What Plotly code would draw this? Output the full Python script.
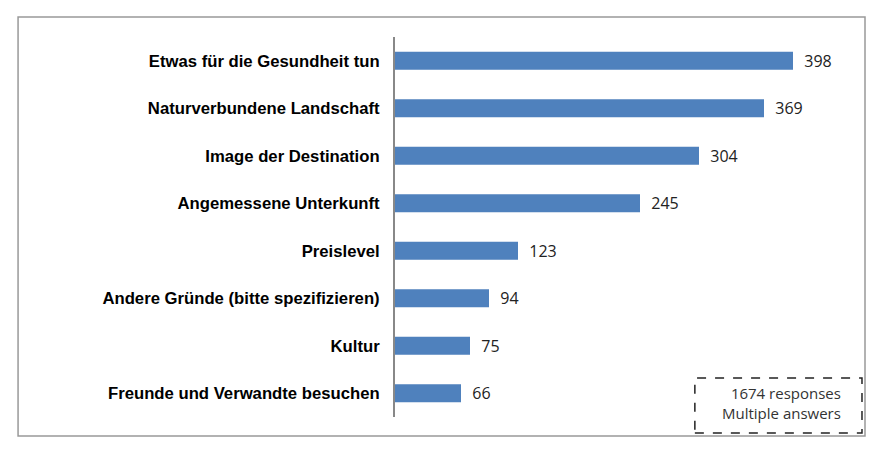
import plotly.graph_objects as go

# Gründe, Anzahl Nennungen
categories = [
    "Etwas für die Gesundheit tun",
    "Naturverbundene Landschaft",
    "Image der Destination",
    "Angemessene Unterkunft",
    "Preislevel",
    "Andere Gründe (bitte spezifizieren)",
    "Kultur",
    "Freunde und Verwandte besuchen",
]
counts = [398, 369, 304, 245, 123, 94, 75, 66]
note_lines = ["1674 responses", "Multiple answers"]

fig = go.Figure()

fig.add_trace(go.Bar(
    y=categories,
    x=counts,
    orientation="h",
    width=0.38,
    marker=dict(color="#4F81BD", line=dict(width=0)),
    text=counts,
    texttemplate="  %{x}",
    textposition="outside",
    constraintext="none",
    textfont=dict(family="Open Sans, Noto Sans, sans-serif", size=16, color="#222222"),
    cliponaxis=False,
))

# die Seite hat 8px Rand, daher etwas kleiner
fig.update_layout(
    width=870,
    height=437,
    margin=dict(l=387, r=13, t=29, b=28),
    plot_bgcolor="white",
    paper_bgcolor="white",
    showlegend=False,
)

fig.update_xaxes(range=[0, 470], visible=False)
fig.update_yaxes(
    autorange="reversed",
    showline=True,
    linecolor="#888888",
    linewidth=2,
    showgrid=False,
    ticks="",
    ticklabelstandoff=10,
    tickfont=dict(family="Liberation Sans, Arial, sans-serif", size=16.7, color="black", weight="bold"),
)

# äußerer Rahmen
fig.add_shape(type="rect", xref="paper", yref="paper",
              x0=-0.802, x1=1.0, y0=-0.05, y1=1.0526,
              line=dict(color="#999999", width=1.5))

# gestrichelte Notiz-Box
fig.add_shape(type="rect", xref="paper", yref="paper",
              x0=0.638, x1=0.9936, y0=-0.042, y1=0.1026,
              line=dict(color="#222222", width=1.5, dash="dash"))

fig.add_annotation(
    xref="paper", yref="paper",
    x=0.953, y=0.037,
    xanchor="right", yanchor="middle",
    text="<br>".join(note_lines),
    align="right",
    showarrow=False,
    font=dict(family="Open Sans, Noto Sans, sans-serif", size=15, color="#333333"),
)

fig.write_html("out.html")
